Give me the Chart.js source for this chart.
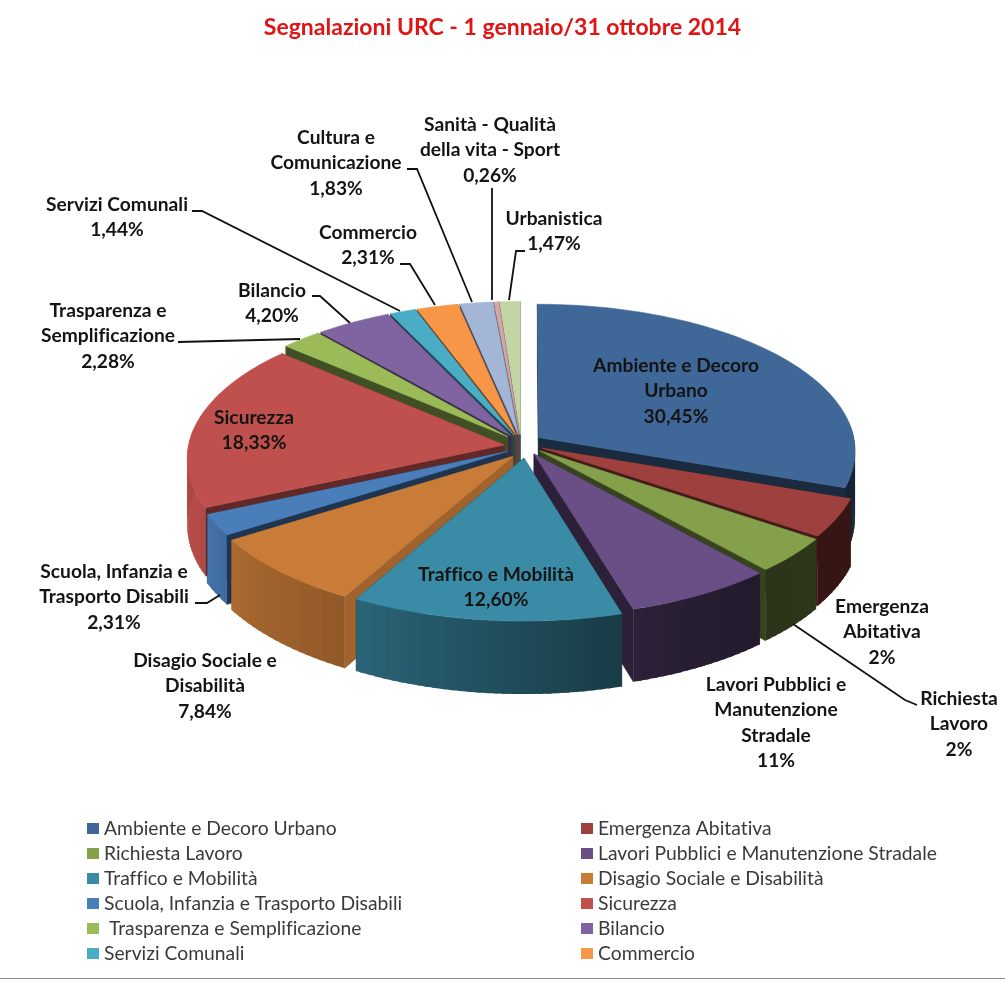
<!DOCTYPE html>
<html>
<head>
<meta charset="utf-8">
<title>Segnalazioni URC</title>
<script src="https://cdn.jsdelivr.net/npm/chart.js@4"></script>
<style>
  html, body { margin: 0; padding: 0; background: #fff; }
  canvas { display: block; }
</style>
</head>
<body>
<canvas id="urcChart" width="1005" height="984"></canvas>
<script>
// Dati
const titleText = 'Segnalazioni URC - 1 gennaio/31 ottobre 2014';
const categories = [
    'Ambiente e Decoro Urbano', 'Emergenza Abitativa', 'Richiesta Lavoro',
    'Lavori Pubblici e Manutenzione Stradale', 'Traffico e Mobilità',
    'Disagio Sociale e Disabilità', 'Scuola, Infanzia e Trasporto Disabili',
    'Sicurezza', ' Trasparenza e Semplificazione', 'Bilancio', 'Servizi Comunali',
    'Commercio', 'Cultura e Comunicazione', 'Sanità - Qualità della vita - Sport',
    'Urbanistica'
];
// ampiezza delle fette come disegnate (le etichette dicono 2%, 2%, 11%)
const sliceValues = [30.45, 4.2, 3.9, 6.9, 12.6, 7.84, 2.31, 18.33, 2.28, 4.2, 1.44, 2.31, 1.83, 0.26, 1.15];
const percentLabels = ['30,45%', '2%', '2%', '11%', '12,60%', '7,84%', '2,31%', '18,33%', '2,28%', '4,20%', '1,44%', '2,31%', '1,83%', '0,26%', '1,47%'];
const sliceColors = ['#3f6797', '#9e413e', '#84a04a', '#694f86', '#3a8ca6', '#c97c38', '#4a7ebb', '#c0504d', '#9bbb59', '#8064a2', '#4bacc6', '#f79646', '#a3b6d8', '#d2a8a7', '#c3d5a4'];

// Impaginazione
const legendCount = 12;
const labelLines = [
    ['Ambiente e Decoro', 'Urbano'], ['Emergenza', 'Abitativa'], ['Richiesta', 'Lavoro'],
    ['Lavori Pubblici e', 'Manutenzione', 'Stradale'], ['Traffico e Mobilità'],
    ['Disagio Sociale e', 'Disabilità'], ['Scuola, Infanzia e', 'Trasporto Disabili'],
    ['Sicurezza'], ['Trasparenza e', 'Semplificazione'], ['Bilancio'], ['Servizi Comunali'],
    ['Commercio'], ['Cultura e', 'Comunicazione'], ['Sanità - Qualità', 'della vita - Sport'],
    ['Urbanistica']
];
const labelAnchors = [[676, 366], [882, 607], [959, 699], [776, 685], [496, 575], [205, 661], [114, 572], [254, 418], [108, 311], [272, 291], [117, 205], [368, 233], [336, 138], [490, 125], [554, 219]];
const leaderLines = [
    null, null,
    [[793, 624], [905, 700], [917, 705]],
    null, null, null,
    [[195, 603], [207, 603], [220, 595]],
    null,
    [[178, 342], [300, 339]],
    [[312, 296], [320, 296], [350, 323]],
    [[192, 211], [202, 211], [400, 311]],
    [[400, 264], [410, 264], [435, 305]],
    [[407, 169], [417, 169], [472, 302]],
    [[492, 188], [492, 300]],
    [[525, 251], [516, 251], [509, 300]]
];
const explode = [0.065, 0.075, 0.08, 0.085, 0.09, 0.07, 0.05, 0.05, 0.06, 0.06, 0.06, 0.06, 0.06, 0.06, 0.06];
const nudge = [[1, 0], [0, 0], [0, 0], [0, 0], [6, 2], [7, 6], [0, 5], [-1, 3], [0, 0], [0, 0], [0, 0], [0, 0], [0, 0], [0, 0], [0, 0]];
const faceShade = [0.42, 0.42, 0.42, 0.42, 0.42, 0.8, 0.42, 0.5, 0.42, 0.42, 0.42, 0.42, 0.42, 0.42, 0.42];

// Proiezione prospettica del piano della torta
const view = { cx: 521, cy: 443, rx: 316, ry: 146, persp: 0.0885, depth: 66 };
const wallShade = [[90, 0.36], [140, 0.33], [163, 0.42], [209, 0.72], [237, 0.85], [250, 0.95], [270, 0.9]];

function project(u, v, drop, shift) {
    const w = 1 / (1 - view.persp * v);
    return [view.cx + view.rx * u * w + shift[0], view.cy + view.ry * v * w + (drop || 0) * w + shift[1]];
}

function shadeColor(hex, f) {
    const n = parseInt(hex.slice(1), 16);
    return `rgb(${Math.round((n >> 16) * f)},${Math.round(((n >> 8) & 255) * f)},${Math.round((n & 255) * f)})`;
}

function wallFactor(deg) {
    if (deg <= wallShade[0][0]) return wallShade[0][1];
    for (let i = 1; i < wallShade.length; i++) {
        if (deg <= wallShade[i][0]) {
            const a = wallShade[i - 1], b = wallShade[i];
            return a[1] + (b[1] - a[1]) * (deg - a[0]) / (b[0] - a[0]);
        }
    }
    return wallShade[wallShade.length - 1][1];
}

function fillPoly(ctx, pts, color, edge) {
    ctx.beginPath();
    pts.forEach((p, i) => i ? ctx.lineTo(p[0], p[1]) : ctx.moveTo(p[0], p[1]));
    ctx.closePath();
    ctx.fillStyle = color;
    ctx.fill();
    if (edge) {
        ctx.strokeStyle = color;
        ctx.lineWidth = 0.6;
        ctx.stroke();
    }
}

function drawSlice(ctx, arc, i) {
    const a0 = arc.startAngle, a1 = arc.endAngle, mid = (a0 + a1) / 2;
    const ex = explode[i] * Math.cos(mid), ey = explode[i] * Math.sin(mid);
    const rim = a => [ex + Math.cos(a), ey + Math.sin(a)];
    const color = sliceColors[i];
    const at = (p, d) => project(p[0], p[1], d, nudge[i]);
    const apex = [ex, ey];

    // facce radiali
    const faces = [a0, a1].map(a => [at(apex, 0), at(rim(a), 0), at(rim(a), view.depth), at(apex, view.depth)]);
    faces.forEach(f => fillPoly(ctx, f, shadeColor(color, faceShade[i]), true));

    // parete esterna a strisce, ognuna sormonta la successiva per non lasciare righe
    const steps = Math.max(1, Math.ceil((a1 - a0) / (Math.PI / 120)));
    const stepAngle = (a1 - a0) / steps;
    for (let s = 0; s < steps; s++) {
        const b0 = a0 + stepAngle * s, b1 = Math.min(a1, b0 + stepAngle * 1.6);
        if (Math.sin(b0 + stepAngle / 2) < -0.1) continue;
        const deg = (b0 + stepAngle / 2 + Math.PI / 2) * 180 / Math.PI;
        fillPoly(ctx, [at(rim(b0), 0), at(rim(b1), 0), at(rim(b1), view.depth), at(rim(b0), view.depth)], shadeColor(color, wallFactor(deg)), false);
    }

    // faccia superiore
    const top = [at(apex, 0)];
    for (let s = 0; s <= steps; s++) top.push(at(rim(a0 + stepAngle * s), 0));
    fillPoly(ctx, top, color, true);
}

const pie3d = {
    id: 'pie3d',
    beforeDatasetDraw(chart, args) {
        const ctx = chart.ctx;
        const arcs = args.meta.data;
        const order = arcs.map((arc, i) => i).sort((p, q) =>
            Math.sin((arcs[p].startAngle + arcs[p].endAngle) / 2) - Math.sin((arcs[q].startAngle + arcs[q].endAngle) / 2));
        order.forEach(i => drawSlice(ctx, arcs[i], i));
        return false;
    },
    afterDraw(chart) {
        const ctx = chart.ctx;
        // linee di richiamo
        ctx.strokeStyle = '#111';
        ctx.lineWidth = 1.8;
        leaderLines.forEach(line => {
            if (!line) return;
            ctx.beginPath();
            line.forEach((p, i) => i ? ctx.lineTo(p[0], p[1]) : ctx.moveTo(p[0], p[1]));
            ctx.stroke();
        });
        // etichette
        ctx.letterSpacing = '0.01px'; // niente legature di Lato
        ctx.font = 'bold 19.2px Lato';
        ctx.fillStyle = '#141414';
        ctx.textAlign = 'center';
        ctx.textBaseline = 'middle';
        categories.forEach((c, i) => {
            const rows = labelLines[i].concat(percentLabels[i]);
            rows.forEach((t, r) => ctx.fillText(t, labelAnchors[i][0], labelAnchors[i][1] + r * 25.3));
        });
        // legenda su due colonne
        ctx.font = '19.3px Lato';
        ctx.textAlign = 'left';
        categories.slice(0, legendCount).forEach((c, i) => {
            const x = i % 2 ? 581 : 87, y = 829 + Math.floor(i / 2) * 25;
            ctx.fillStyle = sliceColors[i];
            ctx.fillRect(x, y - 6, 12, 11);
            ctx.fillStyle = '#3a3a3a';
            ctx.fillText(c, x + 17, y);
        });
        ctx.letterSpacing = '0px';
        // riga in basso
        ctx.fillStyle = '#8a8a8a';
        ctx.fillRect(0, 978, 1005, 1);
    }
};

new Chart(document.getElementById('urcChart').getContext('2d'), {
    type: 'pie',
    data: {
        labels: categories,
        datasets: [{ data: sliceValues, backgroundColor: sliceColors, borderWidth: 0 }]
    },
    options: {
        responsive: false,
        animation: false,
        events: [],
        layout: { padding: { top: 0, bottom: 220, left: 180, right: 180 } },
        plugins: {
            legend: { display: false },
            tooltip: { enabled: false },
            title: {
                display: true,
                text: titleText,
                color: '#e01414',
                font: { family: 'Lato', weight: 'bold', size: 23 },
                padding: { top: 14, bottom: 90 }
            }
        }
    },
    plugins: [pie3d]
});
</script>
</body>
</html>
